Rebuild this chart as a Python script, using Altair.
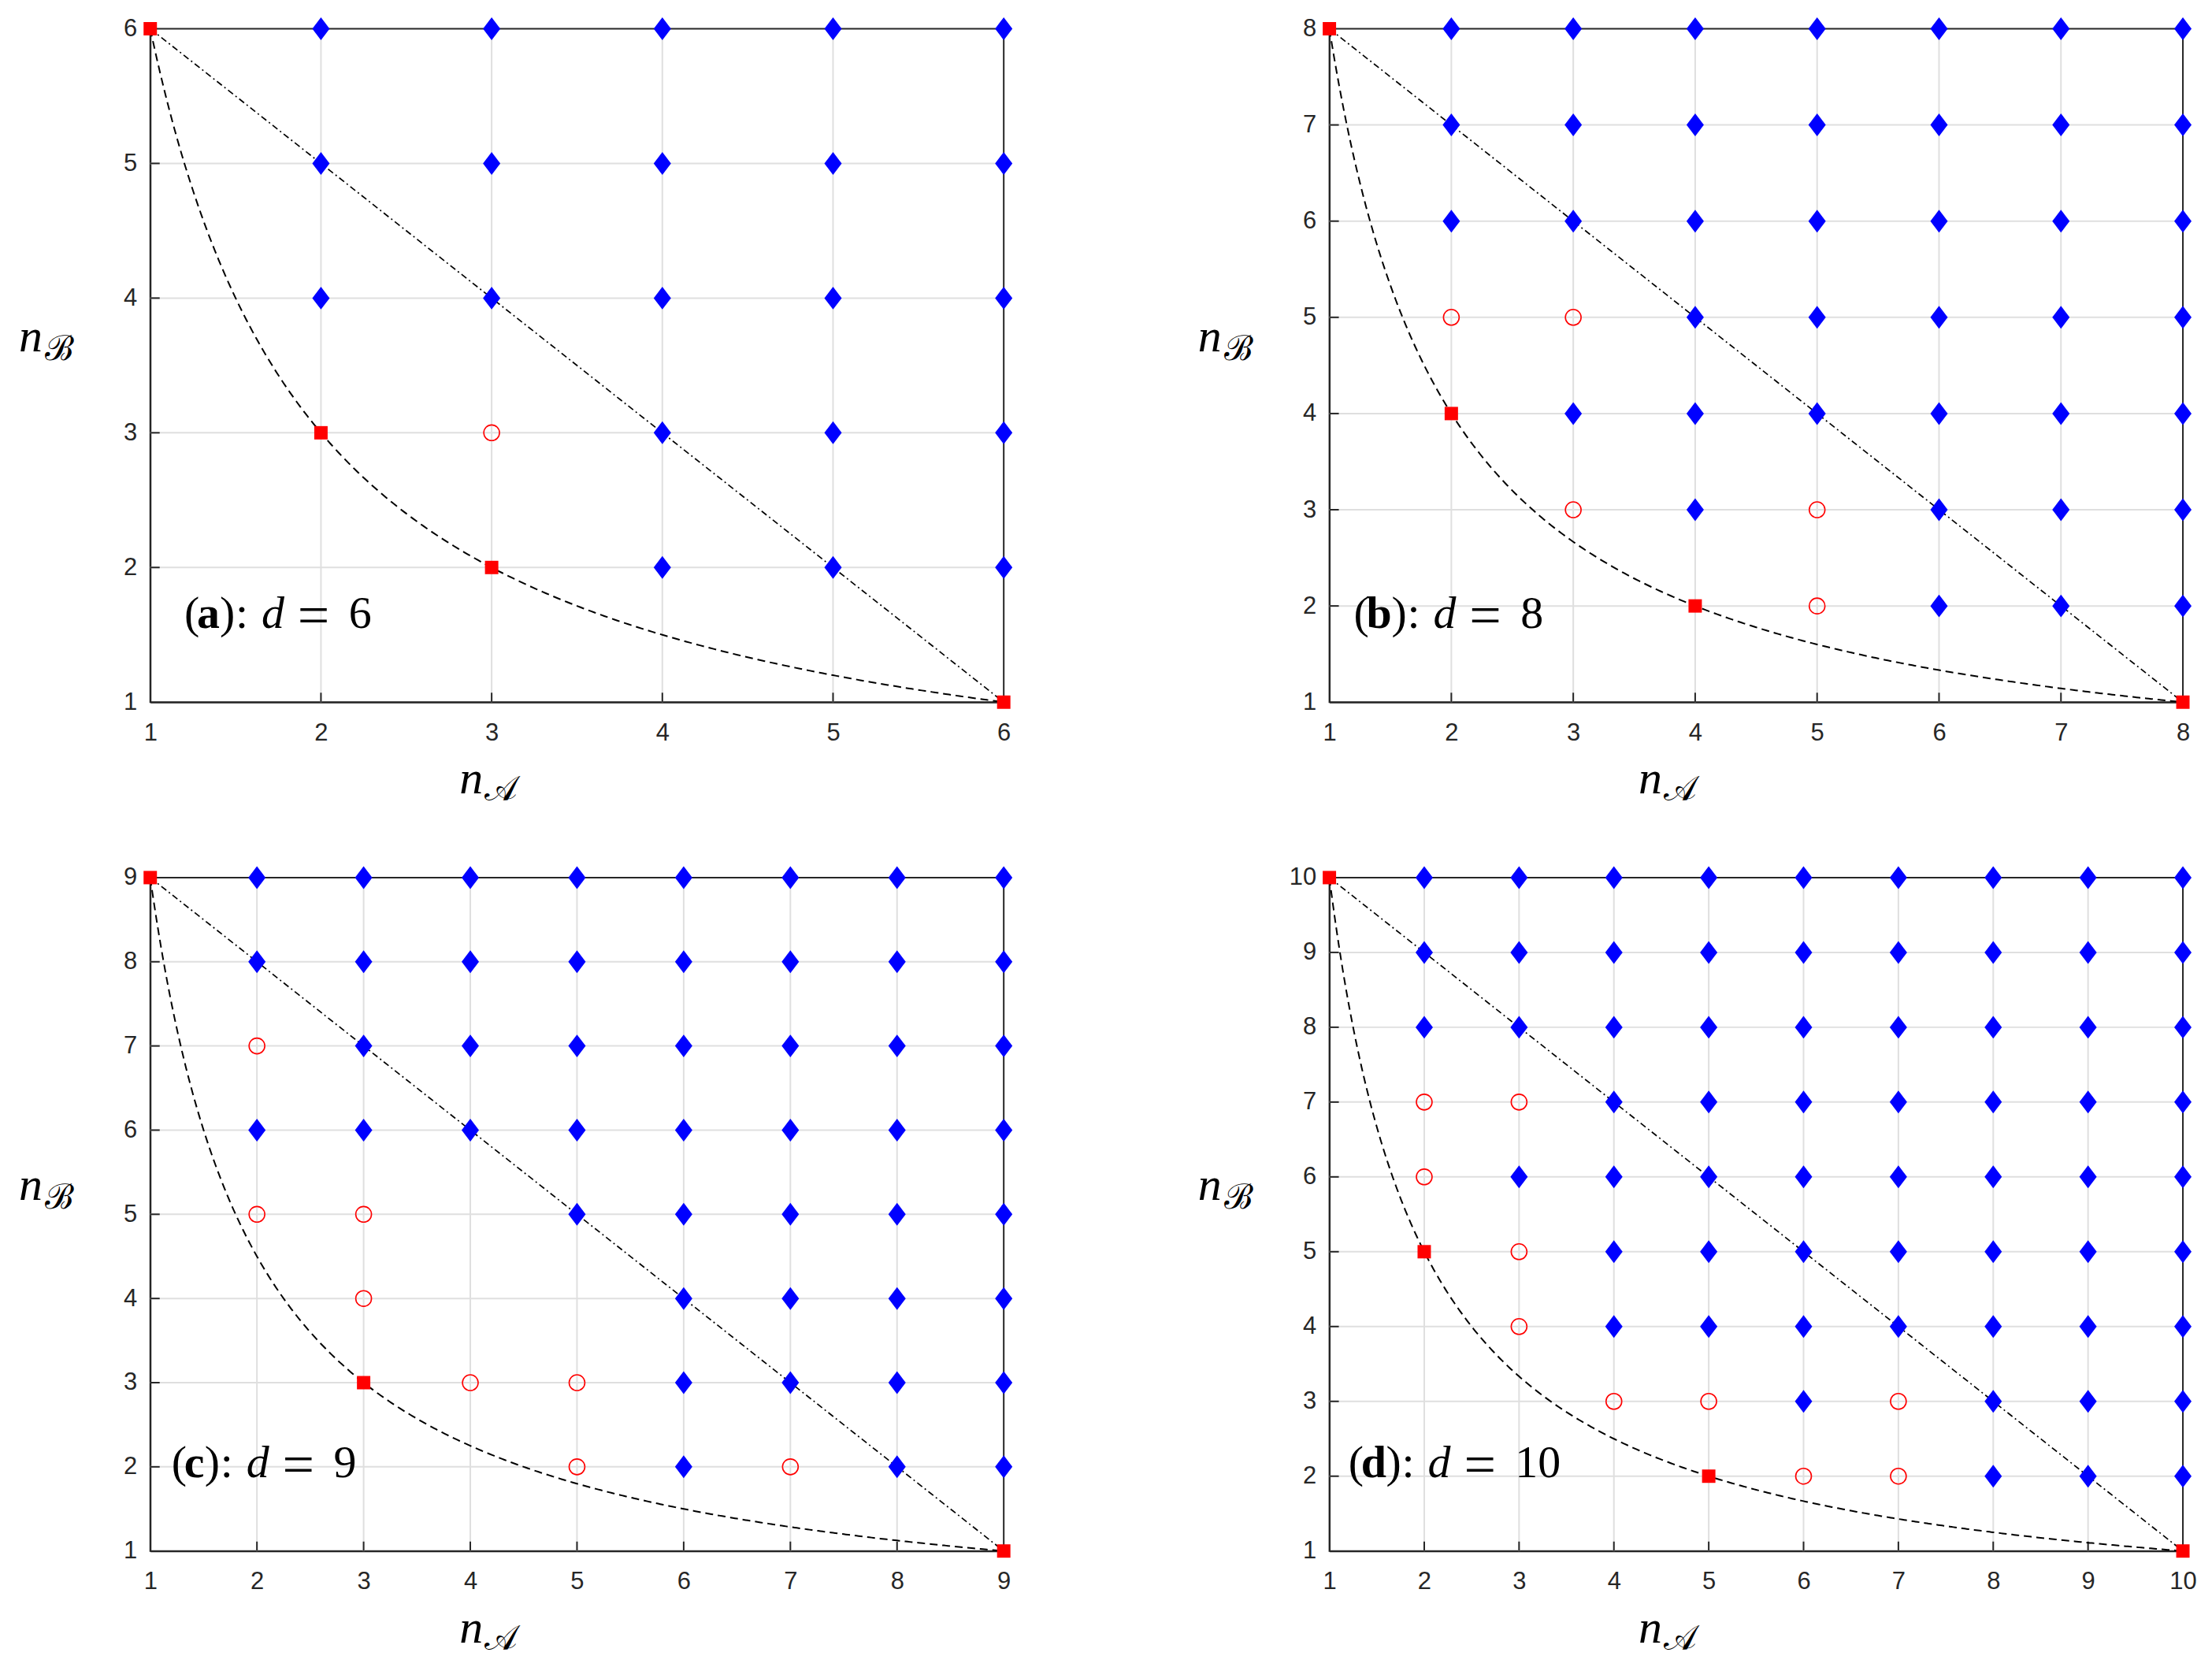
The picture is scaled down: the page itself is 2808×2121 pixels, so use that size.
import altair as alt
import pandas as pd

W, H = 1085, 856
DARK = "#262626"
GRID = "#dfdfdf"
RED = "#ff0000"
BLUE = "#0000ff"

# ---------------- data ----------------
# panel (a): d = 6
A_D = 6
A_SQ_X = [1, 2, 3, 6]
A_SQ_Y = [6, 3, 2, 1]
A_CI_X = [3]
A_CI_Y = [3]
A_DIA = {2: [4, 5, 6], 3: [4, 5, 6], 4: [2, 3, 4, 5, 6], 5: [2, 3, 4, 5, 6], 6: [2, 3, 4, 5, 6]}

# panel (b): d = 8
B_D = 8
B_SQ_X = [1, 2, 4, 8]
B_SQ_Y = [8, 4, 2, 1]
B_CI_X = [2, 3, 3, 5, 5]
B_CI_Y = [5, 5, 3, 3, 2]
B_DIA = {2: [6, 7, 8], 3: [4, 6, 7, 8], 4: [3, 4, 5, 6, 7, 8], 5: [4, 5, 6, 7, 8],
         6: [2, 3, 4, 5, 6, 7, 8], 7: [2, 3, 4, 5, 6, 7, 8], 8: [2, 3, 4, 5, 6, 7, 8]}

# panel (c): d = 9
C_D = 9
C_SQ_X = [1, 3, 9]
C_SQ_Y = [9, 3, 1]
C_CI_X = [2, 2, 3, 3, 4, 5, 5, 7]
C_CI_Y = [7, 5, 5, 4, 3, 3, 2, 2]
C_DIA = {2: [6, 8, 9], 3: [6, 7, 8, 9], 4: [6, 7, 8, 9], 5: [5, 6, 7, 8, 9],
         6: [2, 3, 4, 5, 6, 7, 8, 9], 7: [3, 4, 5, 6, 7, 8, 9],
         8: [2, 3, 4, 5, 6, 7, 8, 9], 9: [2, 3, 4, 5, 6, 7, 8, 9]}

# panel (d): d = 10
D_D = 10
D_SQ_X = [1, 2, 5, 10]
D_SQ_Y = [10, 5, 2, 1]
D_CI_X = [2, 2, 3, 3, 3, 4, 5, 6, 7, 7]
D_CI_Y = [7, 6, 7, 5, 4, 3, 3, 2, 3, 2]
D_DIA = {2: [8, 9, 10], 3: [6, 8, 9, 10], 4: [4, 5, 6, 7, 8, 9, 10], 5: [4, 5, 6, 7, 8, 9, 10],
         6: [3, 4, 5, 6, 7, 8, 9, 10], 7: [4, 5, 6, 7, 8, 9, 10],
         8: [2, 3, 4, 5, 6, 7, 8, 9, 10], 9: [2, 3, 4, 5, 6, 7, 8, 9, 10],
         10: [2, 3, 4, 5, 6, 7, 8, 9, 10]}

DIAMOND = "M0,-1L0.76,0L0,1L-0.76,0Z"
LETTER_ADV = {"a": 29, "b": 32, "c": 26, "d": 32}


def panel(letter, d, sq_x, sq_y, ci_x, ci_y, dia):
    ticks = list(range(1, d + 1))
    inner = list(range(2, d))

    def xaxis():
        return alt.Axis(values=ticks, grid=False, ticks=False, domain=True,
                        domainColor=DARK, domainWidth=2, labelFlush=False,
                        labelPadding=24, labelFont="Liberation Sans", labelFontSize=31,
                        labelColor=DARK, title=None, labelOverlap=False)

    def yaxis():
        return alt.Axis(values=ticks, grid=False, ticks=False, domain=True,
                        domainColor=DARK, domainWidth=2, labelFlush=False,
                        labelPadding=17, labelFont="Liberation Sans", labelFontSize=31,
                        labelColor=DARK, title=None, labelOverlap=False)

    def X(f):
        return alt.X(f"{f}:Q", scale=alt.Scale(domain=[1, d], nice=False, zero=False), axis=xaxis())

    def Y(f):
        return alt.Y(f"{f}:Q", scale=alt.Scale(domain=[1, d], nice=False, zero=False), axis=yaxis())

    gdf = pd.DataFrame({"v": inner})
    gx = alt.Chart(gdf).mark_rule(color=GRID, strokeWidth=2).encode(x=X("v"))
    gy = alt.Chart(gdf).mark_rule(color=GRID, strokeWidth=2).encode(y=Y("v"))
    tx = alt.Chart(gdf).mark_rule(color=DARK, strokeWidth=2).encode(
        x=X("v"), y=alt.value(H), y2=alt.value(H - 12))
    ty = alt.Chart(gdf).mark_rule(color=DARK, strokeWidth=2).encode(
        y=Y("v"), x=alt.value(0), x2=alt.value(12))

    curve = (alt.Chart(alt.sequence(1, d + 0.001, 0.02, as_="nA"))
             .transform_calculate(nB=f"{d} / datum.nA")
             .mark_line(color="black", strokeDash=[10, 6], strokeWidth=2)
             .encode(x=X("nA"), y=Y("nB")))
    diag = (alt.Chart(pd.DataFrame({"lx": [1, d], "ly": [d, 1]}))
            .mark_line(color="black", strokeDash=[8, 4, 2, 4], strokeWidth=1.7)
            .encode(x=X("lx"), y=Y("ly")))

    dx_list, dy_list = [], []
    for cx, cys in dia.items():
        for cy in cys:
            dx_list.append(cx)
            dy_list.append(cy)
    dia_c = (alt.Chart(pd.DataFrame({"px": dx_list, "py": dy_list}))
             .mark_point(shape=DIAMOND, filled=True, color=BLUE, size=841, opacity=1, strokeWidth=0)
             .encode(x=X("px"), y=Y("py")))
    ci_c = (alt.Chart(pd.DataFrame({"px": ci_x, "py": ci_y}))
            .mark_point(shape="circle", filled=False, color=RED, size=400, opacity=1, strokeWidth=1.6)
            .encode(x=X("px"), y=Y("py")))
    sq_c = (alt.Chart(pd.DataFrame({"px": sq_x, "py": sq_y}))
            .mark_point(shape="square", filled=True, color=RED, size=289, opacity=1, strokeWidth=0)
            .encode(x=X("px"), y=Y("py")))

    # panel label "(a): d = 6"
    rp = 16 + LETTER_ADV[letter]
    pieces = [("(", 0, "normal", "normal", 58, 0), (letter, 16, "bold", "normal", 58, 0),
              (")", rp, "normal", "normal", 58, 0), (":", rp + 20, "normal", "normal", 58, 0),
              ("d", rp + 53, "normal", "italic", 58, 0), ("=", rp + 99, "normal", "normal", 72, 8),
              (str(d), rp + 164, "normal", "normal", 58, 0)]
    ldf = pd.DataFrame({"lx": [1.2]})
    labels = []
    for txt, off, wt, st, fs, dyy in pieces:
        labels.append(alt.Chart(ldf).mark_text(text=txt, dx=off, dy=dyy, align="left",
                                              baseline="alphabetic",
                                              font="Liberation Serif", fontSize=fs, fontWeight=wt,
                                              fontStyle=st, color="black")
                      .encode(x=X("lx"), y=alt.value(H - 94)))

    one = pd.DataFrame({"k": [0]})
    titles = [
        alt.Chart(one).mark_text(text="n", align="left", baseline="alphabetic", font="Liberation Serif",
                                 fontStyle="italic", fontSize=60, color="black")
        .encode(x=alt.value(393), y=alt.value(H + 116)),
        alt.Chart(one).mark_text(text="\U0001D49C", align="left", baseline="alphabetic",
                                 font="DejaVu Serif", fontSize=44, color="black")
        .encode(x=alt.value(425), y=alt.value(H + 125)),
        alt.Chart(one).mark_text(text="n", align="left", baseline="alphabetic", font="Liberation Serif",
                                 fontStyle="italic", fontSize=60, color="black")
        .encode(x=alt.value(-167), y=alt.value(410)),
        alt.Chart(one).mark_text(text="\u212C", align="left", baseline="alphabetic",
                                 font="DejaVu Serif", fontSize=44, color="black")
        .encode(x=alt.value(-134), y=alt.value(421)),
    ]

    return alt.layer(gx, gy, tx, ty, curve, diag, dia_c, ci_c, sq_c, *labels, *titles).properties(
        width=W, height=H)


pa = panel("a", A_D, A_SQ_X, A_SQ_Y, A_CI_X, A_CI_Y, A_DIA)
pb = panel("b", B_D, B_SQ_X, B_SQ_Y, B_CI_X, B_CI_Y, B_DIA)
pc = panel("c", C_D, C_SQ_X, C_SQ_Y, C_CI_X, C_CI_Y, C_DIA)
pd_ = panel("d", D_D, D_SQ_X, D_SQ_Y, D_CI_X, D_CI_Y, D_DIA)

chart = alt.concat(pa, pb, pc, pd_, columns=2, spacing={"row": 223, "column": 414},
                   bounds="flush").properties(
    padding={"left": 15, "top": 10, "right": 10, "bottom": 10},
    background="white",
).configure_view(stroke=DARK, strokeWidth=2).configure_axis(
    labelFont="Liberation Sans", labelFontSize=31, labelColor=DARK)

chart.save("out.html", embed_options={"renderer": "svg", "actions": False})
